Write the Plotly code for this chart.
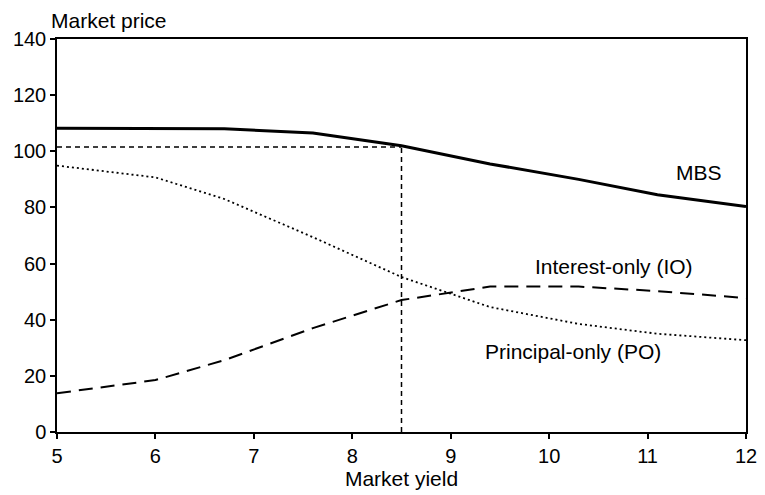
import plotly.graph_objects as go

# Data
yield_pts = [5.0, 6.0, 6.7, 7.6, 8.5, 9.4, 10.3, 11.1, 12.0]
mbs_price = [108.2, 108.1, 108.0, 106.5, 102.0, 95.5, 90.0, 84.5, 80.3]
io_price = [13.8, 18.5, 25.6, 37.0, 47.0, 51.8, 51.8, 50.2, 47.7]
po_price = [94.9, 90.7, 83.0, 69.4, 55.2, 44.5, 38.5, 35.0, 32.7]

ref_yield = 8.5
ref_price = 101.5

x_ticks = [5, 6, 7, 8, 9, 10, 11, 12]
y_ticks = [0, 20, 40, 60, 80, 100, 120, 140]

FONT = "Liberation Sans, Arial, Helvetica, sans-serif"
LBL = 21
TCK = 20

fig = go.Figure()

# Reference crosshair
fig.add_trace(go.Scatter(x=[yield_pts[0], ref_yield], y=[ref_price, ref_price], mode="lines",
                         line=dict(color="black", width=1.5, dash="5px,4px"), showlegend=False, hoverinfo="skip"))
fig.add_trace(go.Scatter(x=[ref_yield, ref_yield], y=[0, ref_price], mode="lines",
                         line=dict(color="black", width=1.5, dash="5px,4px"), showlegend=False, hoverinfo="skip"))

fig.add_trace(go.Scatter(x=yield_pts, y=po_price, mode="lines", name="Principal-only (PO)",
                         line=dict(color="black", width=1.8, dash="2px,3px"), showlegend=False))
fig.add_trace(go.Scatter(x=yield_pts, y=io_price, mode="lines", name="Interest-only (IO)",
                         line=dict(color="black", width=2, dash="14px,8px"), showlegend=False))
fig.add_trace(go.Scatter(x=yield_pts, y=mbs_price, mode="lines", name="MBS",
                         line=dict(color="black", width=3), showlegend=False))

labels = [
    ("MBS", 11.52, 92.3),
    ("Interest-only (IO)", 10.66, 59.0),
    ("Principal-only (PO)", 10.24, 28.6),
]
for text, lx, ly in labels:
    fig.add_annotation(x=lx, y=ly, text=text, showarrow=False, xanchor="center", yanchor="middle",
                       font=dict(family=FONT, size=LBL, color="black"))

fig.add_annotation(xref="paper", yref="paper", x=-0.012, y=1.047, text="Market price", showarrow=False,
                   xanchor="left", yanchor="middle", font=dict(family=FONT, size=LBL, color="black"))

fig.update_xaxes(range=[5, 12], tickvals=x_ticks, ticktext=[str(v) for v in x_ticks],
                 ticks="outside", ticklen=5, tickwidth=1.5, tickcolor="black",
                 showline=True, linecolor="black", linewidth=1.5, mirror=True,
                 showgrid=False, zeroline=False, automargin=False,
                 title=dict(text="Market yield", font=dict(family=FONT, size=LBL, color="black"), standoff=6),
                 tickfont=dict(family=FONT, size=TCK, color="black"))
fig.update_yaxes(range=[0, 140], tickvals=y_ticks, ticktext=[str(v) for v in y_ticks],
                 ticks="outside", ticklen=5, tickwidth=1.5, tickcolor="black",
                 showline=True, linecolor="black", linewidth=1.5, mirror=True,
                 showgrid=False, zeroline=False, automargin=False,
                 tickfont=dict(family=FONT, size=TCK, color="black"))

fig.update_layout(width=765, height=495, margin=dict(l=57, r=19, t=39, b=63),
                  paper_bgcolor="white", plot_bgcolor="white",
                  font=dict(family=FONT, size=TCK, color="black"))

fig.write_html("out.html", config={"displayModeBar": False},
               post_script="document.body.style.margin='0';document.body.style.overflow='hidden';")
